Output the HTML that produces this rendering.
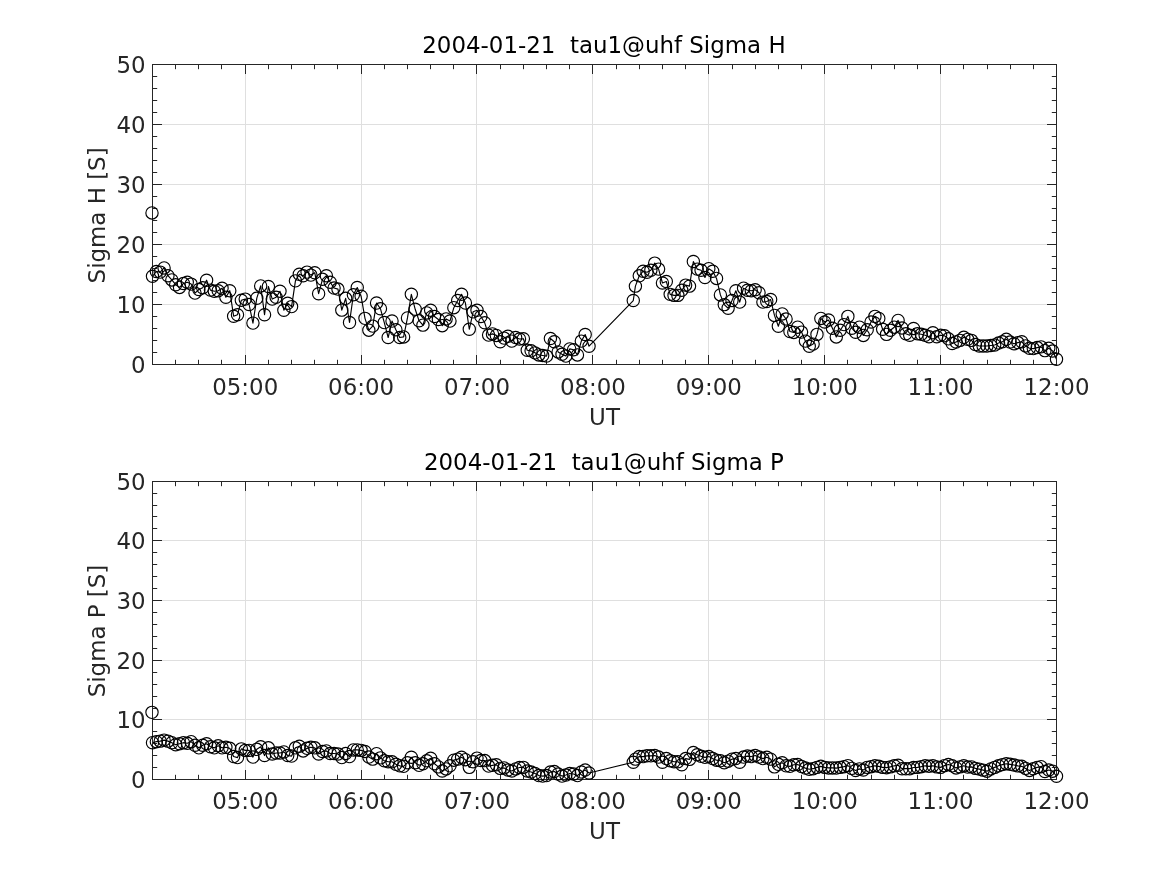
<!DOCTYPE html>
<html lang="en"><head><meta charset="utf-8"><title>tau1@uhf Sigma H / Sigma P</title>
<style>html,body{margin:0;padding:0;background:#fff;overflow:hidden}svg{display:block}text{white-space:pre}</style>
</head><body>
<svg width="1167" height="875" viewBox="0 0 1167 875" font-family="'DejaVu Sans', 'Liberation Sans', sans-serif" font-size="22.92">
<defs><clipPath id="c64"><rect x="152" y="64" width="905" height="301"/></clipPath><clipPath id="c481"><rect x="152" y="481" width="905" height="299"/></clipPath></defs>
<rect width="1167" height="875" fill="#fff"/>
<path d="M245.5 64.5V364.5M361.5 64.5V364.5M476.5 64.5V364.5M592.5 64.5V364.5M708.5 64.5V364.5M824.5 64.5V364.5M940.5 64.5V364.5M152.5 304.5H1056.5M152.5 244.5H1056.5M152.5 184.5H1056.5M152.5 124.5H1056.5" stroke="#dfdfdf" stroke-width="1" fill="none"/>
<g clip-path="url(#c64)">
<polyline points="152,212.9 152.5,276.3 156.36,271.5 160.23,272.1 164.09,267.9 167.95,275.7 171.82,279.9 175.68,284.7 179.54,287.4 183.41,283.5 187.27,282.3 191.13,284.1 195,293.1 198.86,289.5 202.72,287.7 206.59,280.2 210.45,290.1 214.31,291.3 218.18,290.7 222.04,288.3 225.9,297.3 229.76,290.7 233.63,316.2 237.49,314.7 241.35,300.3 245.22,299.1 249.08,304.5 252.94,323.1 256.81,298.2 260.67,285.9 264.53,314.7 268.4,286.5 272.26,299.1 276.12,297.3 279.99,291.3 283.85,310.2 287.71,303.3 291.58,306.6 295.44,280.86 299.3,274.2 303.17,275.7 307.03,272.1 310.89,275.1 314.76,272.7 318.62,293.7 322.48,279.3 326.35,275.7 330.21,282.3 334.07,288.06 337.94,289.08 341.8,310.14 345.66,298.32 349.53,322.5 353.39,294.72 357.25,287.52 361.12,296.28 364.98,318.36 368.84,330.18 372.71,326.1 376.57,303.06 380.43,308.7 384.29,322.56 388.16,337.5 392.02,321.06 395.88,329.7 399.75,337.5 403.61,336.9 407.47,317.94 411.34,294.3 415.2,309.3 419.06,320.7 422.93,325.14 426.79,312.9 430.65,310.26 434.52,316.5 438.38,319.5 442.24,325.68 446.11,318.9 449.97,321.06 453.83,307.68 457.7,300.48 461.56,294.3 465.42,303.06 469.29,329.28 473.15,311.82 477.01,310.26 480.88,316.5 484.74,322.8 488.6,335.1 492.47,333.9 496.33,335.4 500.19,341.7 504.06,338.1 507.92,336.3 511.78,341.1 515.65,337.5 519.51,339 523.37,338.7 527.24,350.28 531.1,350.82 534.96,352.86 538.82,354.9 542.69,355.5 546.55,356.1 550.41,338.46 554.28,341.7 558.14,351.9 562,354.3 565.87,356.1 569.73,348.9 573.59,349.8 577.46,354.9 581.32,341.1 585.18,334.5 589.05,346.2 633.28,300.54 635.41,286.14 639.27,275.82 643.13,271.2 647,272.22 650.86,270.3 654.72,263.1 658.59,269.1 662.45,283.02 666.31,281.52 670.18,294.36 674.04,295.38 677.9,295.38 681.76,290.22 685.63,285.12 689.49,286.14 693.35,261.48 697.22,269.1 701.08,270.3 704.94,277.5 708.81,268.68 712.67,271.2 716.53,278.4 720.4,294.9 724.26,304.62 728.12,308.22 731.99,300.54 735.85,290.76 739.71,302.1 743.58,288.18 747.44,290.22 751.3,290.76 755.17,289.74 759.03,292.8 762.89,302.1 766.76,301.5 770.62,299.52 774.48,315.42 778.35,326.22 782.21,313.92 786.07,319.02 789.94,331.5 793.8,332.4 797.66,327.18 801.53,332.1 805.39,341.1 809.25,346.2 813.12,344.1 816.98,334.38 820.84,318.42 824.71,322.02 828.57,319.98 832.43,328.2 836.29,336.9 840.16,330.3 844.02,324.6 847.88,316.38 851.75,328.2 855.61,332.28 859.47,327.18 863.34,335.4 867.2,329.7 871.06,322.02 874.93,316.38 878.79,318.42 882.65,329.22 886.52,334.38 890.38,330.3 894.24,327.18 898.11,320.4 901.97,328.02 905.83,333.78 909.7,335.28 913.56,328.5 917.42,333.72 921.29,334.2 925.15,335.22 929.01,336.78 932.88,332.7 936.74,336.78 940.6,335.22 944.47,335.76 948.33,338.82 952.19,343.5 956.06,341.94 959.92,340.38 963.78,337.32 967.65,339.36 971.51,340.38 975.37,344.52 979.24,346.02 983.1,346.02 986.96,346.02 990.82,345.54 994.69,345 998.55,342.96 1002.41,341.7 1006.28,339.3 1010.14,342 1014,343.8 1017.87,342.6 1021.73,341.76 1025.59,345.9 1029.46,348.3 1033.32,348.6 1037.18,347.58 1041.05,346.86 1044.91,350.64 1048.77,348.3 1052.64,351 1056.5,359.22" fill="none" stroke="#000" stroke-width="1.15" stroke-linejoin="round"/>
</g>
<path d="M175.5 364.5v-4.7M175.5 64.5v4.7M198.5 364.5v-4.7M198.5 64.5v4.7M221.5 364.5v-4.7M221.5 64.5v4.7M245.5 364.5v-9.5M245.5 64.5v9.5M268.5 364.5v-4.7M268.5 64.5v4.7M291.5 364.5v-4.7M291.5 64.5v4.7M314.5 364.5v-4.7M314.5 64.5v4.7M337.5 364.5v-4.7M337.5 64.5v4.7M361.5 364.5v-9.5M361.5 64.5v9.5M384.5 364.5v-4.7M384.5 64.5v4.7M407.5 364.5v-4.7M407.5 64.5v4.7M430.5 364.5v-4.7M430.5 64.5v4.7M453.5 364.5v-4.7M453.5 64.5v4.7M476.5 364.5v-9.5M476.5 64.5v9.5M500.5 364.5v-4.7M500.5 64.5v4.7M523.5 364.5v-4.7M523.5 64.5v4.7M546.5 364.5v-4.7M546.5 64.5v4.7M569.5 364.5v-4.7M569.5 64.5v4.7M592.5 364.5v-9.5M592.5 64.5v9.5M616.5 364.5v-4.7M616.5 64.5v4.7M639.5 364.5v-4.7M639.5 64.5v4.7M662.5 364.5v-4.7M662.5 64.5v4.7M685.5 364.5v-4.7M685.5 64.5v4.7M708.5 364.5v-9.5M708.5 64.5v9.5M732.5 364.5v-4.7M732.5 64.5v4.7M755.5 364.5v-4.7M755.5 64.5v4.7M778.5 364.5v-4.7M778.5 64.5v4.7M801.5 364.5v-4.7M801.5 64.5v4.7M824.5 364.5v-9.5M824.5 64.5v9.5M847.5 364.5v-4.7M847.5 64.5v4.7M871.5 364.5v-4.7M871.5 64.5v4.7M894.5 364.5v-4.7M894.5 64.5v4.7M917.5 364.5v-4.7M917.5 64.5v4.7M940.5 364.5v-9.5M940.5 64.5v9.5M963.5 364.5v-4.7M963.5 64.5v4.7M987.5 364.5v-4.7M987.5 64.5v4.7M1010.5 364.5v-4.7M1010.5 64.5v4.7M1033.5 364.5v-4.7M1033.5 64.5v4.7M152.5 352.5h4.7M1056.5 352.5h-4.7M152.5 340.5h4.7M1056.5 340.5h-4.7M152.5 328.5h4.7M1056.5 328.5h-4.7M152.5 316.5h4.7M1056.5 316.5h-4.7M152.5 304.5h9.5M1056.5 304.5h-9.5M152.5 292.5h4.7M1056.5 292.5h-4.7M152.5 280.5h4.7M1056.5 280.5h-4.7M152.5 268.5h4.7M1056.5 268.5h-4.7M152.5 256.5h4.7M1056.5 256.5h-4.7M152.5 244.5h9.5M1056.5 244.5h-9.5M152.5 232.5h4.7M1056.5 232.5h-4.7M152.5 220.5h4.7M1056.5 220.5h-4.7M152.5 208.5h4.7M1056.5 208.5h-4.7M152.5 196.5h4.7M1056.5 196.5h-4.7M152.5 184.5h9.5M1056.5 184.5h-9.5M152.5 172.5h4.7M1056.5 172.5h-4.7M152.5 160.5h4.7M1056.5 160.5h-4.7M152.5 148.5h4.7M1056.5 148.5h-4.7M152.5 136.5h4.7M1056.5 136.5h-4.7M152.5 124.5h9.5M1056.5 124.5h-9.5M152.5 112.5h4.7M1056.5 112.5h-4.7M152.5 100.5h4.7M1056.5 100.5h-4.7M152.5 88.5h4.7M1056.5 88.5h-4.7M152.5 76.5h4.7M1056.5 76.5h-4.7" stroke="#262626" stroke-width="1" fill="none"/>
<rect x="152.5" y="64.5" width="904" height="300" fill="none" stroke="#262626" stroke-width="1"/>
<g fill="none" stroke="#000" stroke-width="1.15"><circle cx="152" cy="212.9" r="6.15"/><circle cx="152.5" cy="276.3" r="6.15"/><circle cx="156.36" cy="271.5" r="6.15"/><circle cx="160.23" cy="272.1" r="6.15"/><circle cx="164.09" cy="267.9" r="6.15"/><circle cx="167.95" cy="275.7" r="6.15"/><circle cx="171.82" cy="279.9" r="6.15"/><circle cx="175.68" cy="284.7" r="6.15"/><circle cx="179.54" cy="287.4" r="6.15"/><circle cx="183.41" cy="283.5" r="6.15"/><circle cx="187.27" cy="282.3" r="6.15"/><circle cx="191.13" cy="284.1" r="6.15"/><circle cx="195" cy="293.1" r="6.15"/><circle cx="198.86" cy="289.5" r="6.15"/><circle cx="202.72" cy="287.7" r="6.15"/><circle cx="206.59" cy="280.2" r="6.15"/><circle cx="210.45" cy="290.1" r="6.15"/><circle cx="214.31" cy="291.3" r="6.15"/><circle cx="218.18" cy="290.7" r="6.15"/><circle cx="222.04" cy="288.3" r="6.15"/><circle cx="225.9" cy="297.3" r="6.15"/><circle cx="229.76" cy="290.7" r="6.15"/><circle cx="233.63" cy="316.2" r="6.15"/><circle cx="237.49" cy="314.7" r="6.15"/><circle cx="241.35" cy="300.3" r="6.15"/><circle cx="245.22" cy="299.1" r="6.15"/><circle cx="249.08" cy="304.5" r="6.15"/><circle cx="252.94" cy="323.1" r="6.15"/><circle cx="256.81" cy="298.2" r="6.15"/><circle cx="260.67" cy="285.9" r="6.15"/><circle cx="264.53" cy="314.7" r="6.15"/><circle cx="268.4" cy="286.5" r="6.15"/><circle cx="272.26" cy="299.1" r="6.15"/><circle cx="276.12" cy="297.3" r="6.15"/><circle cx="279.99" cy="291.3" r="6.15"/><circle cx="283.85" cy="310.2" r="6.15"/><circle cx="287.71" cy="303.3" r="6.15"/><circle cx="291.58" cy="306.6" r="6.15"/><circle cx="295.44" cy="280.86" r="6.15"/><circle cx="299.3" cy="274.2" r="6.15"/><circle cx="303.17" cy="275.7" r="6.15"/><circle cx="307.03" cy="272.1" r="6.15"/><circle cx="310.89" cy="275.1" r="6.15"/><circle cx="314.76" cy="272.7" r="6.15"/><circle cx="318.62" cy="293.7" r="6.15"/><circle cx="322.48" cy="279.3" r="6.15"/><circle cx="326.35" cy="275.7" r="6.15"/><circle cx="330.21" cy="282.3" r="6.15"/><circle cx="334.07" cy="288.06" r="6.15"/><circle cx="337.94" cy="289.08" r="6.15"/><circle cx="341.8" cy="310.14" r="6.15"/><circle cx="345.66" cy="298.32" r="6.15"/><circle cx="349.53" cy="322.5" r="6.15"/><circle cx="353.39" cy="294.72" r="6.15"/><circle cx="357.25" cy="287.52" r="6.15"/><circle cx="361.12" cy="296.28" r="6.15"/><circle cx="364.98" cy="318.36" r="6.15"/><circle cx="368.84" cy="330.18" r="6.15"/><circle cx="372.71" cy="326.1" r="6.15"/><circle cx="376.57" cy="303.06" r="6.15"/><circle cx="380.43" cy="308.7" r="6.15"/><circle cx="384.29" cy="322.56" r="6.15"/><circle cx="388.16" cy="337.5" r="6.15"/><circle cx="392.02" cy="321.06" r="6.15"/><circle cx="395.88" cy="329.7" r="6.15"/><circle cx="399.75" cy="337.5" r="6.15"/><circle cx="403.61" cy="336.9" r="6.15"/><circle cx="407.47" cy="317.94" r="6.15"/><circle cx="411.34" cy="294.3" r="6.15"/><circle cx="415.2" cy="309.3" r="6.15"/><circle cx="419.06" cy="320.7" r="6.15"/><circle cx="422.93" cy="325.14" r="6.15"/><circle cx="426.79" cy="312.9" r="6.15"/><circle cx="430.65" cy="310.26" r="6.15"/><circle cx="434.52" cy="316.5" r="6.15"/><circle cx="438.38" cy="319.5" r="6.15"/><circle cx="442.24" cy="325.68" r="6.15"/><circle cx="446.11" cy="318.9" r="6.15"/><circle cx="449.97" cy="321.06" r="6.15"/><circle cx="453.83" cy="307.68" r="6.15"/><circle cx="457.7" cy="300.48" r="6.15"/><circle cx="461.56" cy="294.3" r="6.15"/><circle cx="465.42" cy="303.06" r="6.15"/><circle cx="469.29" cy="329.28" r="6.15"/><circle cx="473.15" cy="311.82" r="6.15"/><circle cx="477.01" cy="310.26" r="6.15"/><circle cx="480.88" cy="316.5" r="6.15"/><circle cx="484.74" cy="322.8" r="6.15"/><circle cx="488.6" cy="335.1" r="6.15"/><circle cx="492.47" cy="333.9" r="6.15"/><circle cx="496.33" cy="335.4" r="6.15"/><circle cx="500.19" cy="341.7" r="6.15"/><circle cx="504.06" cy="338.1" r="6.15"/><circle cx="507.92" cy="336.3" r="6.15"/><circle cx="511.78" cy="341.1" r="6.15"/><circle cx="515.65" cy="337.5" r="6.15"/><circle cx="519.51" cy="339" r="6.15"/><circle cx="523.37" cy="338.7" r="6.15"/><circle cx="527.24" cy="350.28" r="6.15"/><circle cx="531.1" cy="350.82" r="6.15"/><circle cx="534.96" cy="352.86" r="6.15"/><circle cx="538.82" cy="354.9" r="6.15"/><circle cx="542.69" cy="355.5" r="6.15"/><circle cx="546.55" cy="356.1" r="6.15"/><circle cx="550.41" cy="338.46" r="6.15"/><circle cx="554.28" cy="341.7" r="6.15"/><circle cx="558.14" cy="351.9" r="6.15"/><circle cx="562" cy="354.3" r="6.15"/><circle cx="565.87" cy="356.1" r="6.15"/><circle cx="569.73" cy="348.9" r="6.15"/><circle cx="573.59" cy="349.8" r="6.15"/><circle cx="577.46" cy="354.9" r="6.15"/><circle cx="581.32" cy="341.1" r="6.15"/><circle cx="585.18" cy="334.5" r="6.15"/><circle cx="589.05" cy="346.2" r="6.15"/><circle cx="633.28" cy="300.54" r="6.15"/><circle cx="635.41" cy="286.14" r="6.15"/><circle cx="639.27" cy="275.82" r="6.15"/><circle cx="643.13" cy="271.2" r="6.15"/><circle cx="647" cy="272.22" r="6.15"/><circle cx="650.86" cy="270.3" r="6.15"/><circle cx="654.72" cy="263.1" r="6.15"/><circle cx="658.59" cy="269.1" r="6.15"/><circle cx="662.45" cy="283.02" r="6.15"/><circle cx="666.31" cy="281.52" r="6.15"/><circle cx="670.18" cy="294.36" r="6.15"/><circle cx="674.04" cy="295.38" r="6.15"/><circle cx="677.9" cy="295.38" r="6.15"/><circle cx="681.76" cy="290.22" r="6.15"/><circle cx="685.63" cy="285.12" r="6.15"/><circle cx="689.49" cy="286.14" r="6.15"/><circle cx="693.35" cy="261.48" r="6.15"/><circle cx="697.22" cy="269.1" r="6.15"/><circle cx="701.08" cy="270.3" r="6.15"/><circle cx="704.94" cy="277.5" r="6.15"/><circle cx="708.81" cy="268.68" r="6.15"/><circle cx="712.67" cy="271.2" r="6.15"/><circle cx="716.53" cy="278.4" r="6.15"/><circle cx="720.4" cy="294.9" r="6.15"/><circle cx="724.26" cy="304.62" r="6.15"/><circle cx="728.12" cy="308.22" r="6.15"/><circle cx="731.99" cy="300.54" r="6.15"/><circle cx="735.85" cy="290.76" r="6.15"/><circle cx="739.71" cy="302.1" r="6.15"/><circle cx="743.58" cy="288.18" r="6.15"/><circle cx="747.44" cy="290.22" r="6.15"/><circle cx="751.3" cy="290.76" r="6.15"/><circle cx="755.17" cy="289.74" r="6.15"/><circle cx="759.03" cy="292.8" r="6.15"/><circle cx="762.89" cy="302.1" r="6.15"/><circle cx="766.76" cy="301.5" r="6.15"/><circle cx="770.62" cy="299.52" r="6.15"/><circle cx="774.48" cy="315.42" r="6.15"/><circle cx="778.35" cy="326.22" r="6.15"/><circle cx="782.21" cy="313.92" r="6.15"/><circle cx="786.07" cy="319.02" r="6.15"/><circle cx="789.94" cy="331.5" r="6.15"/><circle cx="793.8" cy="332.4" r="6.15"/><circle cx="797.66" cy="327.18" r="6.15"/><circle cx="801.53" cy="332.1" r="6.15"/><circle cx="805.39" cy="341.1" r="6.15"/><circle cx="809.25" cy="346.2" r="6.15"/><circle cx="813.12" cy="344.1" r="6.15"/><circle cx="816.98" cy="334.38" r="6.15"/><circle cx="820.84" cy="318.42" r="6.15"/><circle cx="824.71" cy="322.02" r="6.15"/><circle cx="828.57" cy="319.98" r="6.15"/><circle cx="832.43" cy="328.2" r="6.15"/><circle cx="836.29" cy="336.9" r="6.15"/><circle cx="840.16" cy="330.3" r="6.15"/><circle cx="844.02" cy="324.6" r="6.15"/><circle cx="847.88" cy="316.38" r="6.15"/><circle cx="851.75" cy="328.2" r="6.15"/><circle cx="855.61" cy="332.28" r="6.15"/><circle cx="859.47" cy="327.18" r="6.15"/><circle cx="863.34" cy="335.4" r="6.15"/><circle cx="867.2" cy="329.7" r="6.15"/><circle cx="871.06" cy="322.02" r="6.15"/><circle cx="874.93" cy="316.38" r="6.15"/><circle cx="878.79" cy="318.42" r="6.15"/><circle cx="882.65" cy="329.22" r="6.15"/><circle cx="886.52" cy="334.38" r="6.15"/><circle cx="890.38" cy="330.3" r="6.15"/><circle cx="894.24" cy="327.18" r="6.15"/><circle cx="898.11" cy="320.4" r="6.15"/><circle cx="901.97" cy="328.02" r="6.15"/><circle cx="905.83" cy="333.78" r="6.15"/><circle cx="909.7" cy="335.28" r="6.15"/><circle cx="913.56" cy="328.5" r="6.15"/><circle cx="917.42" cy="333.72" r="6.15"/><circle cx="921.29" cy="334.2" r="6.15"/><circle cx="925.15" cy="335.22" r="6.15"/><circle cx="929.01" cy="336.78" r="6.15"/><circle cx="932.88" cy="332.7" r="6.15"/><circle cx="936.74" cy="336.78" r="6.15"/><circle cx="940.6" cy="335.22" r="6.15"/><circle cx="944.47" cy="335.76" r="6.15"/><circle cx="948.33" cy="338.82" r="6.15"/><circle cx="952.19" cy="343.5" r="6.15"/><circle cx="956.06" cy="341.94" r="6.15"/><circle cx="959.92" cy="340.38" r="6.15"/><circle cx="963.78" cy="337.32" r="6.15"/><circle cx="967.65" cy="339.36" r="6.15"/><circle cx="971.51" cy="340.38" r="6.15"/><circle cx="975.37" cy="344.52" r="6.15"/><circle cx="979.24" cy="346.02" r="6.15"/><circle cx="983.1" cy="346.02" r="6.15"/><circle cx="986.96" cy="346.02" r="6.15"/><circle cx="990.82" cy="345.54" r="6.15"/><circle cx="994.69" cy="345" r="6.15"/><circle cx="998.55" cy="342.96" r="6.15"/><circle cx="1002.41" cy="341.7" r="6.15"/><circle cx="1006.28" cy="339.3" r="6.15"/><circle cx="1010.14" cy="342" r="6.15"/><circle cx="1014" cy="343.8" r="6.15"/><circle cx="1017.87" cy="342.6" r="6.15"/><circle cx="1021.73" cy="341.76" r="6.15"/><circle cx="1025.59" cy="345.9" r="6.15"/><circle cx="1029.46" cy="348.3" r="6.15"/><circle cx="1033.32" cy="348.6" r="6.15"/><circle cx="1037.18" cy="347.58" r="6.15"/><circle cx="1041.05" cy="346.86" r="6.15"/><circle cx="1044.91" cy="350.64" r="6.15"/><circle cx="1048.77" cy="348.3" r="6.15"/><circle cx="1052.64" cy="351" r="6.15"/><circle cx="1056.5" cy="359.22" r="6.15"/></g>
<g fill="#262626">
<text x="245.22" y="395.1" text-anchor="middle">05:00</text>
<text x="361.12" y="395.1" text-anchor="middle">06:00</text>
<text x="477.01" y="395.1" text-anchor="middle">07:00</text>
<text x="592.91" y="395.1" text-anchor="middle">08:00</text>
<text x="708.81" y="395.1" text-anchor="middle">09:00</text>
<text x="824.71" y="395.1" text-anchor="middle">10:00</text>
<text x="940.6" y="395.1" text-anchor="middle">11:00</text>
<text x="1056.5" y="395.1" text-anchor="middle">12:00</text>
<text x="145.7" y="372.9" text-anchor="end">0</text>
<text x="145.7" y="312.9" text-anchor="end">10</text>
<text x="145.7" y="252.9" text-anchor="end">20</text>
<text x="145.7" y="192.9" text-anchor="end">30</text>
<text x="145.7" y="132.9" text-anchor="end">40</text>
<text x="145.7" y="72.9" text-anchor="end">50</text>
<text x="604.5" y="424.5" text-anchor="middle">UT</text>
<text transform="translate(105.2 215.4) rotate(-90)" text-anchor="middle">Sigma H [S]</text>
</g>
<text x="603.95" y="52.8" text-anchor="middle" fill="#000">2004-01-21  tau1@uhf Sigma H</text>
<path d="M245.5 481.5V779.5M361.5 481.5V779.5M476.5 481.5V779.5M592.5 481.5V779.5M708.5 481.5V779.5M824.5 481.5V779.5M940.5 481.5V779.5M152.5 719.5H1056.5M152.5 660.5H1056.5M152.5 600.5H1056.5M152.5 540.5H1056.5" stroke="#dfdfdf" stroke-width="1" fill="none"/>
<g clip-path="url(#c481)">
<polyline points="152,712.36 152.5,742.69 156.36,741.67 160.23,741.13 164.09,740.11 167.95,741.13 171.82,742.69 175.68,744.73 179.54,743.71 183.41,742.69 187.27,743.23 191.13,741.67 195,745.27 198.86,747.85 202.72,745.27 206.59,743.71 210.45,746.77 214.31,747.85 218.18,745.75 222.04,747.85 225.9,747.31 229.76,748.33 233.63,756.56 237.49,757.58 241.35,748.87 245.22,750.38 249.08,750.38 252.94,757.1 256.81,749.35 260.67,746.77 264.53,755.54 268.4,747.85 272.26,753.98 276.12,752.96 279.99,752.96 283.85,751.94 287.71,755.54 291.58,756.08 295.44,747.85 299.3,746.29 303.17,750.92 307.03,748.33 310.89,747.31 314.76,747.85 318.62,753.98 322.48,751.46 326.35,750.92 330.21,753.5 334.07,753.5 337.94,753.98 341.8,757.58 345.66,753.5 349.53,756.56 353.39,749.9 357.25,749.9 361.12,750.38 364.98,751.46 368.84,757.1 372.71,759.14 376.57,753.68 380.43,757.88 384.29,760.7 388.16,761.73 392.02,761.73 395.88,764.31 399.75,765.81 403.61,766.35 407.47,762.75 411.34,757.28 415.2,762.75 419.06,765.33 422.93,763.77 426.79,760.7 430.65,758.3 434.52,763.77 438.38,766.89 442.24,770.97 446.11,768.93 449.97,765.81 453.83,760.16 457.7,759.14 461.56,757.28 465.42,759.68 469.29,767.37 473.15,761.73 477.01,758.12 480.88,760.46 484.74,760.58 488.6,766.11 492.47,765.33 496.33,764.79 500.19,768.39 504.06,767.91 507.92,769.95 511.78,770.97 515.65,768.93 519.51,767.55 523.37,767.37 527.24,770.97 531.1,771.99 534.96,773.56 538.82,775.6 542.69,776.08 546.55,775.6 550.41,771.99 554.28,771.45 558.14,774.04 562,776.08 565.87,775.06 569.73,773.56 573.59,774.04 577.46,775.6 581.32,771.99 585.18,769.95 589.05,773.01 633.28,762.21 635.41,759.14 639.27,756.56 643.13,756.56 647,755.84 650.86,755.84 654.72,755.54 658.59,757.1 662.45,762.21 666.31,758.6 670.18,760.7 674.04,761.73 677.9,761.73 681.76,764.79 685.63,758.6 689.49,759.38 693.35,752.48 697.22,754.76 701.08,756.32 704.94,757.34 708.81,756.56 712.67,758.6 716.53,760.16 720.4,760.7 724.26,762.75 728.12,761.18 731.99,759.14 735.85,758.6 739.71,762.21 743.58,757.1 747.44,756.08 751.3,756.56 755.17,755.54 759.03,757.1 762.89,758.6 766.76,757.28 770.62,759.14 774.48,766.89 778.35,764.31 782.21,762.75 786.07,765.81 789.94,766.35 793.8,764.79 797.66,764.49 801.53,766.59 805.39,768.09 809.25,769.29 813.12,768.69 816.98,767.37 820.84,766.35 824.71,767.37 828.57,767.91 832.43,767.91 836.29,768.09 840.16,767.37 844.02,766.65 847.88,765.63 851.75,768.39 855.61,770.49 859.47,768.93 863.34,769.95 867.2,767.37 871.06,766.65 874.93,765.81 878.79,766.35 882.65,767.37 886.52,767.67 890.38,766.89 894.24,765.81 898.11,765.21 901.97,768.69 905.83,768.69 909.7,768.69 913.56,767.49 917.42,767.37 921.29,766.65 925.15,765.81 929.01,766.35 932.88,765.81 936.74,766.89 940.6,767.37 944.47,765.63 948.33,764.49 952.19,765.81 956.06,767.91 959.92,766.89 963.78,765.81 967.65,767.07 971.51,766.89 975.37,768.39 979.24,769.11 983.1,770.13 986.96,771.15 990.82,768.93 994.69,767.37 998.55,765.81 1002.41,764.61 1006.28,763.71 1010.14,764.31 1014,765.03 1017.87,765.87 1021.73,766.35 1025.59,768.39 1029.46,770.43 1033.32,768.75 1037.18,767.37 1041.05,766.65 1044.91,771.45 1048.77,770.07 1052.64,771.15 1056.5,776.26" fill="none" stroke="#000" stroke-width="1.15" stroke-linejoin="round"/>
</g>
<path d="M175.5 779.5v-4.7M175.5 481.5v4.7M198.5 779.5v-4.7M198.5 481.5v4.7M221.5 779.5v-4.7M221.5 481.5v4.7M245.5 779.5v-9.5M245.5 481.5v9.5M268.5 779.5v-4.7M268.5 481.5v4.7M291.5 779.5v-4.7M291.5 481.5v4.7M314.5 779.5v-4.7M314.5 481.5v4.7M337.5 779.5v-4.7M337.5 481.5v4.7M361.5 779.5v-9.5M361.5 481.5v9.5M384.5 779.5v-4.7M384.5 481.5v4.7M407.5 779.5v-4.7M407.5 481.5v4.7M430.5 779.5v-4.7M430.5 481.5v4.7M453.5 779.5v-4.7M453.5 481.5v4.7M476.5 779.5v-9.5M476.5 481.5v9.5M500.5 779.5v-4.7M500.5 481.5v4.7M523.5 779.5v-4.7M523.5 481.5v4.7M546.5 779.5v-4.7M546.5 481.5v4.7M569.5 779.5v-4.7M569.5 481.5v4.7M592.5 779.5v-9.5M592.5 481.5v9.5M616.5 779.5v-4.7M616.5 481.5v4.7M639.5 779.5v-4.7M639.5 481.5v4.7M662.5 779.5v-4.7M662.5 481.5v4.7M685.5 779.5v-4.7M685.5 481.5v4.7M708.5 779.5v-9.5M708.5 481.5v9.5M732.5 779.5v-4.7M732.5 481.5v4.7M755.5 779.5v-4.7M755.5 481.5v4.7M778.5 779.5v-4.7M778.5 481.5v4.7M801.5 779.5v-4.7M801.5 481.5v4.7M824.5 779.5v-9.5M824.5 481.5v9.5M847.5 779.5v-4.7M847.5 481.5v4.7M871.5 779.5v-4.7M871.5 481.5v4.7M894.5 779.5v-4.7M894.5 481.5v4.7M917.5 779.5v-4.7M917.5 481.5v4.7M940.5 779.5v-9.5M940.5 481.5v9.5M963.5 779.5v-4.7M963.5 481.5v4.7M987.5 779.5v-4.7M987.5 481.5v4.7M1010.5 779.5v-4.7M1010.5 481.5v4.7M1033.5 779.5v-4.7M1033.5 481.5v4.7M152.5 767.5h4.7M1056.5 767.5h-4.7M152.5 755.5h4.7M1056.5 755.5h-4.7M152.5 743.5h4.7M1056.5 743.5h-4.7M152.5 731.5h4.7M1056.5 731.5h-4.7M152.5 719.5h9.5M1056.5 719.5h-9.5M152.5 708.5h4.7M1056.5 708.5h-4.7M152.5 696.5h4.7M1056.5 696.5h-4.7M152.5 684.5h4.7M1056.5 684.5h-4.7M152.5 672.5h4.7M1056.5 672.5h-4.7M152.5 660.5h9.5M1056.5 660.5h-9.5M152.5 648.5h4.7M1056.5 648.5h-4.7M152.5 636.5h4.7M1056.5 636.5h-4.7M152.5 624.5h4.7M1056.5 624.5h-4.7M152.5 612.5h4.7M1056.5 612.5h-4.7M152.5 600.5h9.5M1056.5 600.5h-9.5M152.5 588.5h4.7M1056.5 588.5h-4.7M152.5 576.5h4.7M1056.5 576.5h-4.7M152.5 564.5h4.7M1056.5 564.5h-4.7M152.5 552.5h4.7M1056.5 552.5h-4.7M152.5 540.5h9.5M1056.5 540.5h-9.5M152.5 528.5h4.7M1056.5 528.5h-4.7M152.5 516.5h4.7M1056.5 516.5h-4.7M152.5 505.5h4.7M1056.5 505.5h-4.7M152.5 493.5h4.7M1056.5 493.5h-4.7" stroke="#262626" stroke-width="1" fill="none"/>
<rect x="152.5" y="481.5" width="904" height="298" fill="none" stroke="#262626" stroke-width="1"/>
<g fill="none" stroke="#000" stroke-width="1.15"><circle cx="152" cy="712.36" r="6.15"/><circle cx="152.5" cy="742.69" r="6.15"/><circle cx="156.36" cy="741.67" r="6.15"/><circle cx="160.23" cy="741.13" r="6.15"/><circle cx="164.09" cy="740.11" r="6.15"/><circle cx="167.95" cy="741.13" r="6.15"/><circle cx="171.82" cy="742.69" r="6.15"/><circle cx="175.68" cy="744.73" r="6.15"/><circle cx="179.54" cy="743.71" r="6.15"/><circle cx="183.41" cy="742.69" r="6.15"/><circle cx="187.27" cy="743.23" r="6.15"/><circle cx="191.13" cy="741.67" r="6.15"/><circle cx="195" cy="745.27" r="6.15"/><circle cx="198.86" cy="747.85" r="6.15"/><circle cx="202.72" cy="745.27" r="6.15"/><circle cx="206.59" cy="743.71" r="6.15"/><circle cx="210.45" cy="746.77" r="6.15"/><circle cx="214.31" cy="747.85" r="6.15"/><circle cx="218.18" cy="745.75" r="6.15"/><circle cx="222.04" cy="747.85" r="6.15"/><circle cx="225.9" cy="747.31" r="6.15"/><circle cx="229.76" cy="748.33" r="6.15"/><circle cx="233.63" cy="756.56" r="6.15"/><circle cx="237.49" cy="757.58" r="6.15"/><circle cx="241.35" cy="748.87" r="6.15"/><circle cx="245.22" cy="750.38" r="6.15"/><circle cx="249.08" cy="750.38" r="6.15"/><circle cx="252.94" cy="757.1" r="6.15"/><circle cx="256.81" cy="749.35" r="6.15"/><circle cx="260.67" cy="746.77" r="6.15"/><circle cx="264.53" cy="755.54" r="6.15"/><circle cx="268.4" cy="747.85" r="6.15"/><circle cx="272.26" cy="753.98" r="6.15"/><circle cx="276.12" cy="752.96" r="6.15"/><circle cx="279.99" cy="752.96" r="6.15"/><circle cx="283.85" cy="751.94" r="6.15"/><circle cx="287.71" cy="755.54" r="6.15"/><circle cx="291.58" cy="756.08" r="6.15"/><circle cx="295.44" cy="747.85" r="6.15"/><circle cx="299.3" cy="746.29" r="6.15"/><circle cx="303.17" cy="750.92" r="6.15"/><circle cx="307.03" cy="748.33" r="6.15"/><circle cx="310.89" cy="747.31" r="6.15"/><circle cx="314.76" cy="747.85" r="6.15"/><circle cx="318.62" cy="753.98" r="6.15"/><circle cx="322.48" cy="751.46" r="6.15"/><circle cx="326.35" cy="750.92" r="6.15"/><circle cx="330.21" cy="753.5" r="6.15"/><circle cx="334.07" cy="753.5" r="6.15"/><circle cx="337.94" cy="753.98" r="6.15"/><circle cx="341.8" cy="757.58" r="6.15"/><circle cx="345.66" cy="753.5" r="6.15"/><circle cx="349.53" cy="756.56" r="6.15"/><circle cx="353.39" cy="749.9" r="6.15"/><circle cx="357.25" cy="749.9" r="6.15"/><circle cx="361.12" cy="750.38" r="6.15"/><circle cx="364.98" cy="751.46" r="6.15"/><circle cx="368.84" cy="757.1" r="6.15"/><circle cx="372.71" cy="759.14" r="6.15"/><circle cx="376.57" cy="753.68" r="6.15"/><circle cx="380.43" cy="757.88" r="6.15"/><circle cx="384.29" cy="760.7" r="6.15"/><circle cx="388.16" cy="761.73" r="6.15"/><circle cx="392.02" cy="761.73" r="6.15"/><circle cx="395.88" cy="764.31" r="6.15"/><circle cx="399.75" cy="765.81" r="6.15"/><circle cx="403.61" cy="766.35" r="6.15"/><circle cx="407.47" cy="762.75" r="6.15"/><circle cx="411.34" cy="757.28" r="6.15"/><circle cx="415.2" cy="762.75" r="6.15"/><circle cx="419.06" cy="765.33" r="6.15"/><circle cx="422.93" cy="763.77" r="6.15"/><circle cx="426.79" cy="760.7" r="6.15"/><circle cx="430.65" cy="758.3" r="6.15"/><circle cx="434.52" cy="763.77" r="6.15"/><circle cx="438.38" cy="766.89" r="6.15"/><circle cx="442.24" cy="770.97" r="6.15"/><circle cx="446.11" cy="768.93" r="6.15"/><circle cx="449.97" cy="765.81" r="6.15"/><circle cx="453.83" cy="760.16" r="6.15"/><circle cx="457.7" cy="759.14" r="6.15"/><circle cx="461.56" cy="757.28" r="6.15"/><circle cx="465.42" cy="759.68" r="6.15"/><circle cx="469.29" cy="767.37" r="6.15"/><circle cx="473.15" cy="761.73" r="6.15"/><circle cx="477.01" cy="758.12" r="6.15"/><circle cx="480.88" cy="760.46" r="6.15"/><circle cx="484.74" cy="760.58" r="6.15"/><circle cx="488.6" cy="766.11" r="6.15"/><circle cx="492.47" cy="765.33" r="6.15"/><circle cx="496.33" cy="764.79" r="6.15"/><circle cx="500.19" cy="768.39" r="6.15"/><circle cx="504.06" cy="767.91" r="6.15"/><circle cx="507.92" cy="769.95" r="6.15"/><circle cx="511.78" cy="770.97" r="6.15"/><circle cx="515.65" cy="768.93" r="6.15"/><circle cx="519.51" cy="767.55" r="6.15"/><circle cx="523.37" cy="767.37" r="6.15"/><circle cx="527.24" cy="770.97" r="6.15"/><circle cx="531.1" cy="771.99" r="6.15"/><circle cx="534.96" cy="773.56" r="6.15"/><circle cx="538.82" cy="775.6" r="6.15"/><circle cx="542.69" cy="776.08" r="6.15"/><circle cx="546.55" cy="775.6" r="6.15"/><circle cx="550.41" cy="771.99" r="6.15"/><circle cx="554.28" cy="771.45" r="6.15"/><circle cx="558.14" cy="774.04" r="6.15"/><circle cx="562" cy="776.08" r="6.15"/><circle cx="565.87" cy="775.06" r="6.15"/><circle cx="569.73" cy="773.56" r="6.15"/><circle cx="573.59" cy="774.04" r="6.15"/><circle cx="577.46" cy="775.6" r="6.15"/><circle cx="581.32" cy="771.99" r="6.15"/><circle cx="585.18" cy="769.95" r="6.15"/><circle cx="589.05" cy="773.01" r="6.15"/><circle cx="633.28" cy="762.21" r="6.15"/><circle cx="635.41" cy="759.14" r="6.15"/><circle cx="639.27" cy="756.56" r="6.15"/><circle cx="643.13" cy="756.56" r="6.15"/><circle cx="647" cy="755.84" r="6.15"/><circle cx="650.86" cy="755.84" r="6.15"/><circle cx="654.72" cy="755.54" r="6.15"/><circle cx="658.59" cy="757.1" r="6.15"/><circle cx="662.45" cy="762.21" r="6.15"/><circle cx="666.31" cy="758.6" r="6.15"/><circle cx="670.18" cy="760.7" r="6.15"/><circle cx="674.04" cy="761.73" r="6.15"/><circle cx="677.9" cy="761.73" r="6.15"/><circle cx="681.76" cy="764.79" r="6.15"/><circle cx="685.63" cy="758.6" r="6.15"/><circle cx="689.49" cy="759.38" r="6.15"/><circle cx="693.35" cy="752.48" r="6.15"/><circle cx="697.22" cy="754.76" r="6.15"/><circle cx="701.08" cy="756.32" r="6.15"/><circle cx="704.94" cy="757.34" r="6.15"/><circle cx="708.81" cy="756.56" r="6.15"/><circle cx="712.67" cy="758.6" r="6.15"/><circle cx="716.53" cy="760.16" r="6.15"/><circle cx="720.4" cy="760.7" r="6.15"/><circle cx="724.26" cy="762.75" r="6.15"/><circle cx="728.12" cy="761.18" r="6.15"/><circle cx="731.99" cy="759.14" r="6.15"/><circle cx="735.85" cy="758.6" r="6.15"/><circle cx="739.71" cy="762.21" r="6.15"/><circle cx="743.58" cy="757.1" r="6.15"/><circle cx="747.44" cy="756.08" r="6.15"/><circle cx="751.3" cy="756.56" r="6.15"/><circle cx="755.17" cy="755.54" r="6.15"/><circle cx="759.03" cy="757.1" r="6.15"/><circle cx="762.89" cy="758.6" r="6.15"/><circle cx="766.76" cy="757.28" r="6.15"/><circle cx="770.62" cy="759.14" r="6.15"/><circle cx="774.48" cy="766.89" r="6.15"/><circle cx="778.35" cy="764.31" r="6.15"/><circle cx="782.21" cy="762.75" r="6.15"/><circle cx="786.07" cy="765.81" r="6.15"/><circle cx="789.94" cy="766.35" r="6.15"/><circle cx="793.8" cy="764.79" r="6.15"/><circle cx="797.66" cy="764.49" r="6.15"/><circle cx="801.53" cy="766.59" r="6.15"/><circle cx="805.39" cy="768.09" r="6.15"/><circle cx="809.25" cy="769.29" r="6.15"/><circle cx="813.12" cy="768.69" r="6.15"/><circle cx="816.98" cy="767.37" r="6.15"/><circle cx="820.84" cy="766.35" r="6.15"/><circle cx="824.71" cy="767.37" r="6.15"/><circle cx="828.57" cy="767.91" r="6.15"/><circle cx="832.43" cy="767.91" r="6.15"/><circle cx="836.29" cy="768.09" r="6.15"/><circle cx="840.16" cy="767.37" r="6.15"/><circle cx="844.02" cy="766.65" r="6.15"/><circle cx="847.88" cy="765.63" r="6.15"/><circle cx="851.75" cy="768.39" r="6.15"/><circle cx="855.61" cy="770.49" r="6.15"/><circle cx="859.47" cy="768.93" r="6.15"/><circle cx="863.34" cy="769.95" r="6.15"/><circle cx="867.2" cy="767.37" r="6.15"/><circle cx="871.06" cy="766.65" r="6.15"/><circle cx="874.93" cy="765.81" r="6.15"/><circle cx="878.79" cy="766.35" r="6.15"/><circle cx="882.65" cy="767.37" r="6.15"/><circle cx="886.52" cy="767.67" r="6.15"/><circle cx="890.38" cy="766.89" r="6.15"/><circle cx="894.24" cy="765.81" r="6.15"/><circle cx="898.11" cy="765.21" r="6.15"/><circle cx="901.97" cy="768.69" r="6.15"/><circle cx="905.83" cy="768.69" r="6.15"/><circle cx="909.7" cy="768.69" r="6.15"/><circle cx="913.56" cy="767.49" r="6.15"/><circle cx="917.42" cy="767.37" r="6.15"/><circle cx="921.29" cy="766.65" r="6.15"/><circle cx="925.15" cy="765.81" r="6.15"/><circle cx="929.01" cy="766.35" r="6.15"/><circle cx="932.88" cy="765.81" r="6.15"/><circle cx="936.74" cy="766.89" r="6.15"/><circle cx="940.6" cy="767.37" r="6.15"/><circle cx="944.47" cy="765.63" r="6.15"/><circle cx="948.33" cy="764.49" r="6.15"/><circle cx="952.19" cy="765.81" r="6.15"/><circle cx="956.06" cy="767.91" r="6.15"/><circle cx="959.92" cy="766.89" r="6.15"/><circle cx="963.78" cy="765.81" r="6.15"/><circle cx="967.65" cy="767.07" r="6.15"/><circle cx="971.51" cy="766.89" r="6.15"/><circle cx="975.37" cy="768.39" r="6.15"/><circle cx="979.24" cy="769.11" r="6.15"/><circle cx="983.1" cy="770.13" r="6.15"/><circle cx="986.96" cy="771.15" r="6.15"/><circle cx="990.82" cy="768.93" r="6.15"/><circle cx="994.69" cy="767.37" r="6.15"/><circle cx="998.55" cy="765.81" r="6.15"/><circle cx="1002.41" cy="764.61" r="6.15"/><circle cx="1006.28" cy="763.71" r="6.15"/><circle cx="1010.14" cy="764.31" r="6.15"/><circle cx="1014" cy="765.03" r="6.15"/><circle cx="1017.87" cy="765.87" r="6.15"/><circle cx="1021.73" cy="766.35" r="6.15"/><circle cx="1025.59" cy="768.39" r="6.15"/><circle cx="1029.46" cy="770.43" r="6.15"/><circle cx="1033.32" cy="768.75" r="6.15"/><circle cx="1037.18" cy="767.37" r="6.15"/><circle cx="1041.05" cy="766.65" r="6.15"/><circle cx="1044.91" cy="771.45" r="6.15"/><circle cx="1048.77" cy="770.07" r="6.15"/><circle cx="1052.64" cy="771.15" r="6.15"/><circle cx="1056.5" cy="776.26" r="6.15"/></g>
<g fill="#262626">
<text x="245.22" y="809.4" text-anchor="middle">05:00</text>
<text x="361.12" y="809.4" text-anchor="middle">06:00</text>
<text x="477.01" y="809.4" text-anchor="middle">07:00</text>
<text x="592.91" y="809.4" text-anchor="middle">08:00</text>
<text x="708.81" y="809.4" text-anchor="middle">09:00</text>
<text x="824.71" y="809.4" text-anchor="middle">10:00</text>
<text x="940.6" y="809.4" text-anchor="middle">11:00</text>
<text x="1056.5" y="809.4" text-anchor="middle">12:00</text>
<text x="145.7" y="787.9" text-anchor="end">0</text>
<text x="145.7" y="727.9" text-anchor="end">10</text>
<text x="145.7" y="668.9" text-anchor="end">20</text>
<text x="145.7" y="608.9" text-anchor="end">30</text>
<text x="145.7" y="548.9" text-anchor="end">40</text>
<text x="145.7" y="489.9" text-anchor="end">50</text>
<text x="604.5" y="838.9" text-anchor="middle">UT</text>
<text transform="translate(105.2 631) rotate(-90)" text-anchor="middle">Sigma P [S]</text>
</g>
<text x="603.95" y="469.5" text-anchor="middle" fill="#000">2004-01-21  tau1@uhf Sigma P</text>
</svg>
</body></html>
